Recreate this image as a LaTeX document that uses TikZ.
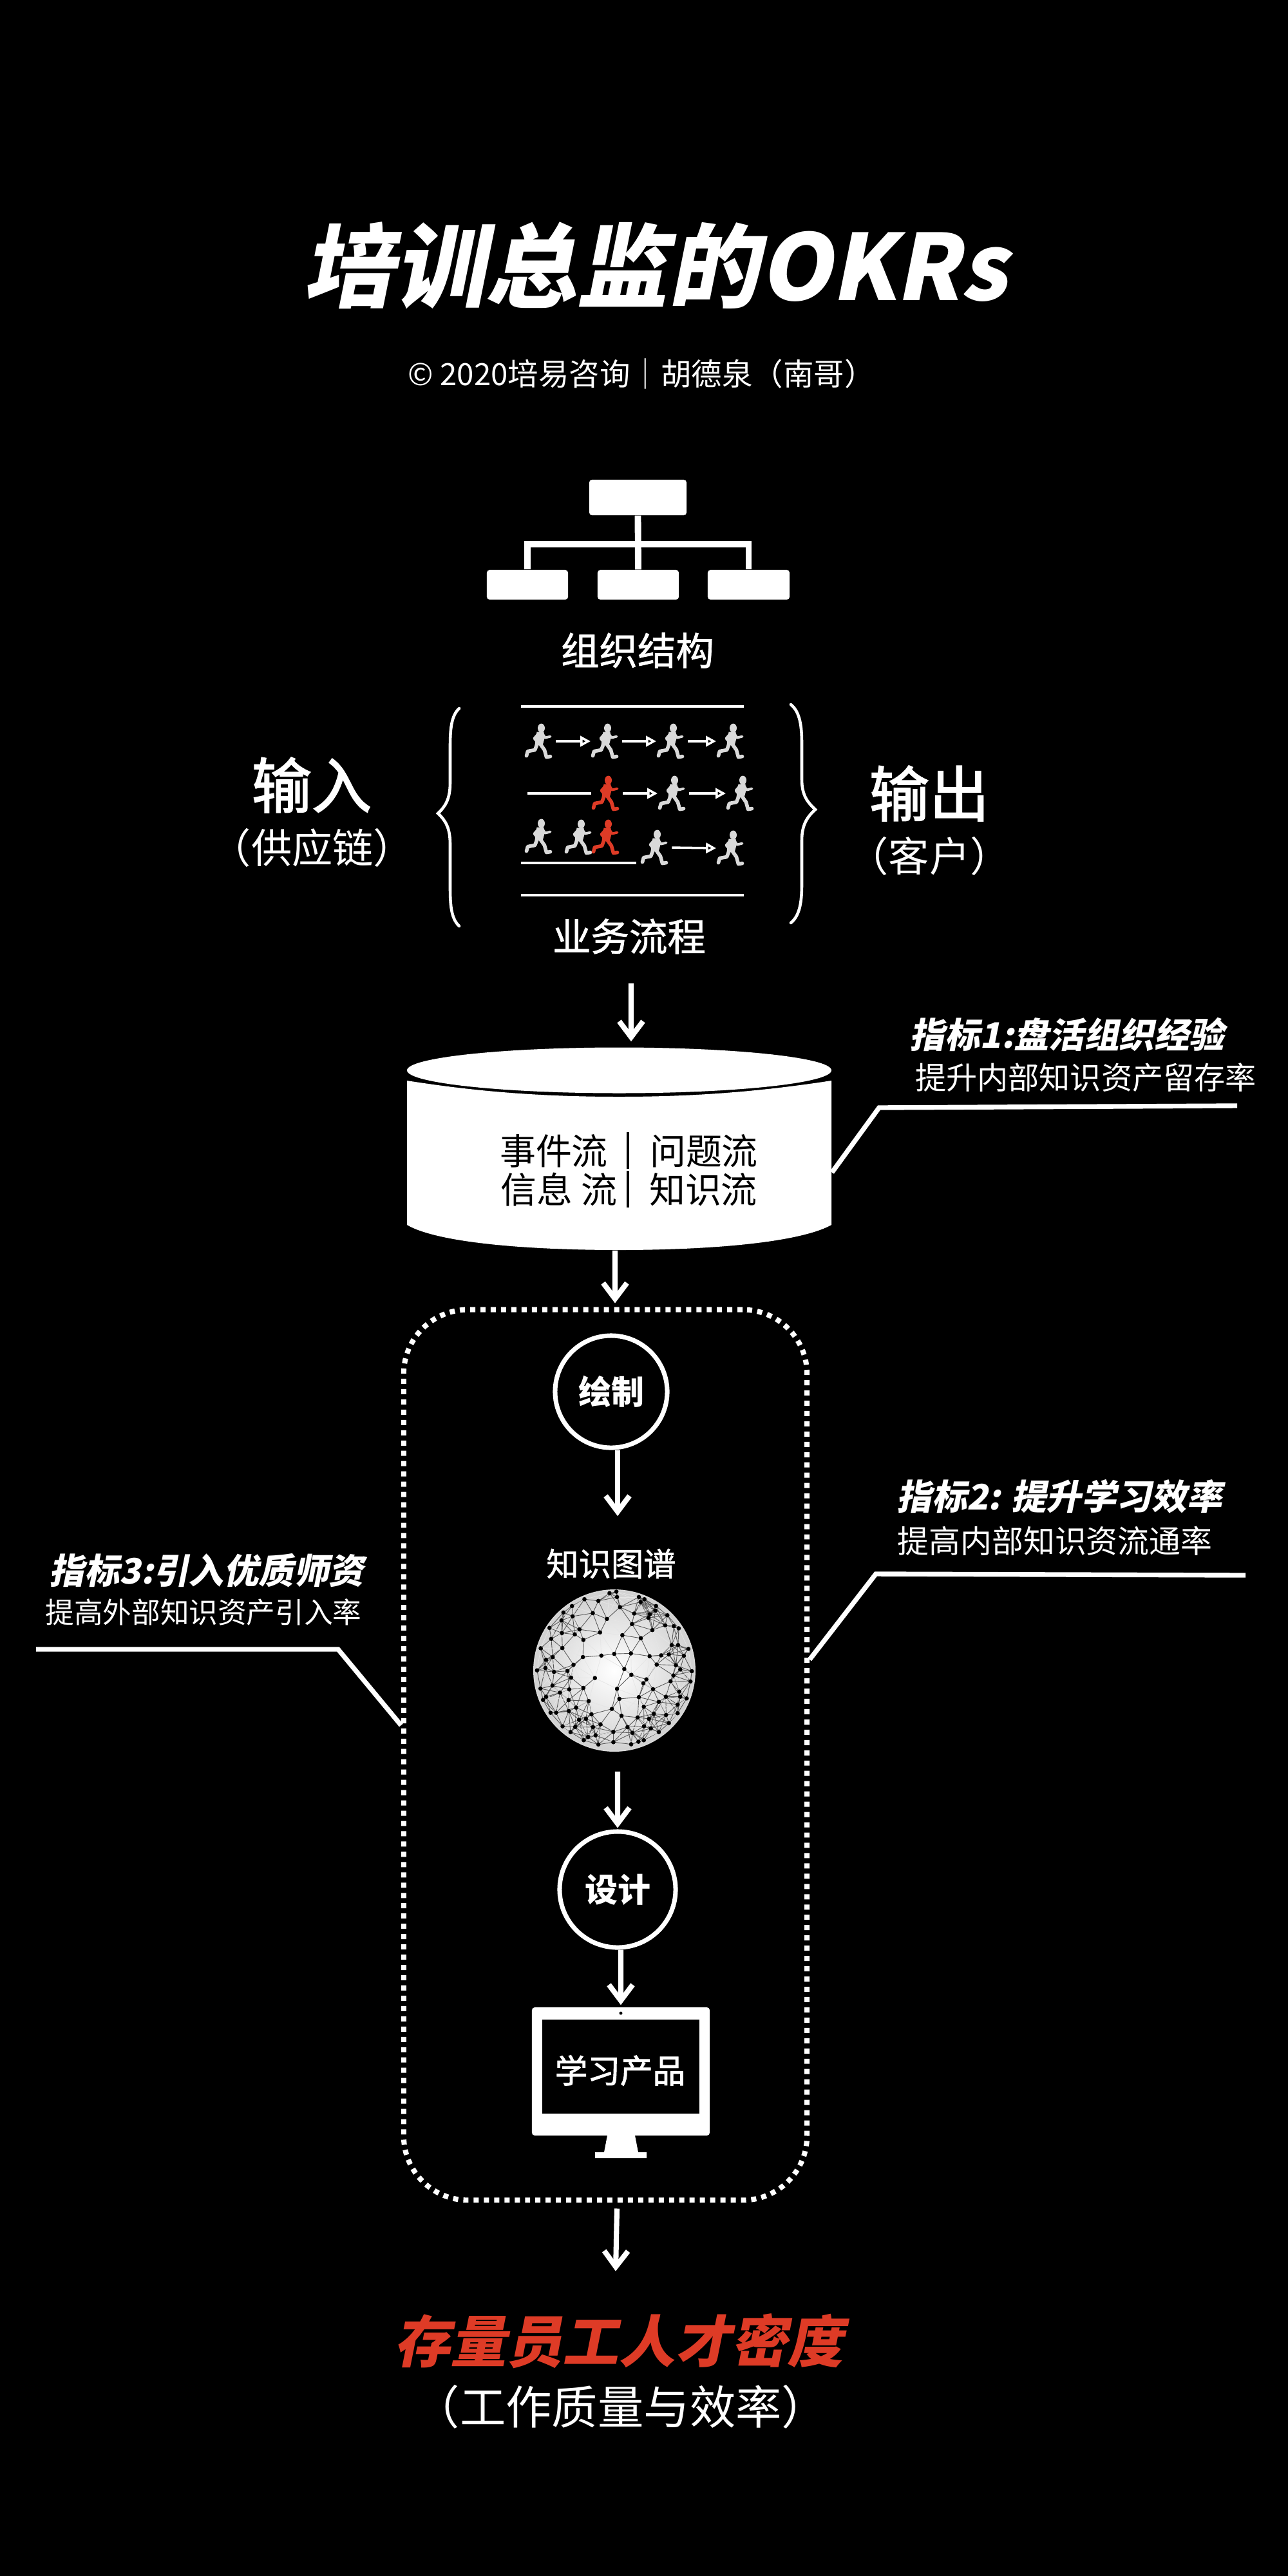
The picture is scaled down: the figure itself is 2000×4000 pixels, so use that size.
\documentclass[tikz,border=0pt]{standalone}
\usepackage{fontspec}
\setmainfont{Noto Sans CJK SC}
\newfontfamily\cjkslant[FakeSlant=0.2]{Noto Sans CJK SC}
\newfontfamily\cjkmed[FakeBold=1.2]{Noto Sans CJK SC}
\newfontfamily\cjkheavy[FakeBold=2]{Noto Sans CJK SC}
\usetikzlibrary{arrows.meta}
\definecolor{accent}{HTML}{DE3B26}
\definecolor{runnergray}{HTML}{D9D9D9}

\tikzset{
x=0.01cm, y=-0.01cm,
every node/.style={text=white, inner sep=0pt},
fsize/.style={font=\fontsize{#1}{#1}\selectfont},
medsize/.style={font=\fontsize{#1}{#1}\selectfont\cjkmed},
metric/.style={font=\fontsize{#1}{#1}\selectfont\cjkslant\bfseries},
orgbox/.style={fill=white, rounded corners=1.2pt},
orgline/.style={draw=white, line width=2.8pt},
track/.style={draw=white, line width=1.15pt},
brace/.style={draw=white, line width=1.3pt, line cap=round},
runarrow/.style={draw=white, line width=1pt, shorten <=1.5pt,
  -{Triangle[length=4.5pt,width=4.6pt]}},
flowarrow/.style={draw=white, line width=2.3pt,
  -{Straight Barb[length=7pt,width=10.5pt]}},
callout/.style={draw=white, line width=2.1pt},
stepcircle/.style={circle, draw=white, line width=2pt, font=\fontsize{14.5}{14.5}\selectfont\bfseries},
}

% one little running man
\newcommand\runnerfig[1]{\tikz[x=0.01cm,y=-0.01cm,line join=round,line cap=round]{
\fill[#1] (4,-21) ellipse [x radius=5.5, y radius=7];
\fill[#1] (-3,-15) -- (8,-15) -- (9,-5) -- (6,6) -- (-6,5) -- cycle;
\draw[#1, line width=1.1pt] (6,-12) -- (10,-6) -- (18,-8);
\draw[#1, line width=1.1pt] (-1,-12) -- (-7,-5) -- (-3,0);
\draw[#1, line width=1.6pt] (-2,3) -- (-6,13) -- (-17,15) -- (-19,22);
\draw[#1, line width=1.6pt] (2,3) -- (9,13) -- (12,24) -- (18,23);
}}

\begin{document}
\begin{tikzpicture}
\useasboundingbox (0,0) rectangle (2000,4000);
\fill[black] (0,0) rectangle (2000,4000);

\node[font=\fontsize{40.3}{40.3}\selectfont\cjkslant\bfseries] (title) at (1017,412) {培训总监的OKRs};
\node[fsize=13.5] (byline) at (996,580) {© 2020培易咨询｜胡德泉（南哥）};

% org chart
\node[orgbox, minimum width=1.51cm, minimum height=0.55cm] (orgtop) at (990.5,772.5) {};
\node[orgbox, minimum width=1.26cm, minimum height=0.46cm] (orga) at (819,908) {};
\node[orgbox, minimum width=1.26cm, minimum height=0.46cm] (orgb) at (991,908) {};
\node[orgbox, minimum width=1.27cm, minimum height=0.46cm] (orgc) at (1162.5,908) {};
\coordinate (orgbus) at (991,845);
\draw[orgline] (orgtop.south) -- (orgb.north);
\draw[orgline] (orga.north) |- (orgbus) -| (orgc.north);
\node[medsize=16.9] (orglabel) at (990,1010) {组织结构};

\node[font=\fontsize{26.5}{26.5}\selectfont\cjkheavy] (input) at (484,1219) {输入};
\node[fsize=18] (inputsub) at (485,1316) {（供应链）};
\node[font=\fontsize{26.5}{26.5}\selectfont\cjkheavy] (output) at (1443,1232) {输出};
\node[fsize=18] (outputsub) at (1443,1329) {（客户）};

% the braces
\draw[brace] (713,1100) .. controls (700,1112) and (699,1135) .. (699,1160) -- (699,1215)
  .. controls (699,1240) and (692,1252) .. (680,1263)
  .. controls (692,1274) and (699,1286) .. (699,1311) -- (699,1378)
  .. controls (699,1403) and (700,1426) .. (713,1438);
\draw[brace] (1228,1094) .. controls (1243,1106) and (1245,1130) .. (1245,1155) -- (1245,1210)
  .. controls (1245,1235) and (1254,1246) .. (1266,1257)
  .. controls (1254,1268) and (1245,1280) .. (1245,1305) -- (1245,1372)
  .. controls (1245,1397) and (1243,1421) .. (1228,1433);

% process rows
\coordinate (tracktopa) at (809,1097);
\coordinate (tracktopb) at (1155,1097);
\coordinate (trackbota) at (809,1390);
\coordinate (trackbotb) at (1155,1390);
\coordinate (trackwaita) at (809,1340);
\coordinate (trackwaitb) at (988,1340);
\coordinate (trackidle) at (819,1232);
\draw[track] (tracktopa) -- (tracktopb);
\draw[track] (trackbota) -- (trackbotb);
\draw[track] (trackwaita) -- (trackwaitb);

\node (ra) at (836,1151) {\runnerfig{runnergray}};
\node (rb) at (939,1151) {\runnerfig{runnergray}};
\node (rc) at (1041,1151) {\runnerfig{runnergray}};
\node (rd) at (1134,1151) {\runnerfig{runnergray}};
\draw[runarrow] (ra.east) -- (rb.west);
\draw[runarrow] (rb.east) -- (rc.west);
\draw[runarrow] (rc.east) -- (rd.west);

\node (sa) at (940,1232) {\runnerfig{accent}};
\node (sb) at (1043,1232) {\runnerfig{runnergray}};
\node (sc) at (1149,1232) {\runnerfig{runnergray}};
\draw[track] (trackidle) -- (sa.west);
\draw[runarrow] (sa.east) -- (sb.west);
\draw[runarrow] (sb.east) -- (sc.west);

\node (ta) at (836,1299) {\runnerfig{runnergray}};
\node (tb) at (898,1300) {\runnerfig{runnergray}};
\node (tc) at (940,1300) {\runnerfig{accent}};
\node (td) at (1016,1316) {\runnerfig{runnergray}};
\node (te) at (1134,1317) {\runnerfig{runnergray}};
\draw[runarrow] (td.east) -- (te.west);

\node[medsize=16.9] (proc) at (977,1454) {业务流程};

% the store
\fill[white] (632,1678) -- (632,1902) .. controls (680,1930) and (820,1941) .. (961.5,1941)
  .. controls (1100,1941) and (1240,1930) .. (1291,1902) -- (1291,1678)
  .. controls (1180,1695) and (1080,1703) .. (961.5,1703)
  .. controls (840,1703) and (740,1695) .. (632,1678) -- cycle;
\fill[white] (961.5,1662) ellipse [x radius=329.5, y radius=35.5];
\node[minimum width=6.59cm, minimum height=3.15cm] (db) at (961.5,1783.5) {};
\node[fsize=15.9, text=black] (dba) at (860,1787) {事件流};
\node[fsize=15.9, text=black] (dbb) at (1093,1787) {问题流};
\node[fsize=15.9, text=black] (dbc) at (868,1847) {信息 流};
\node[fsize=15.9, text=black] (dbd) at (1092,1847) {知识流};
\draw[black, line width=1.2pt] (dba.east -| 975,0) ++(0,-29) -- ++(0,57);
\draw[black, line width=1.2pt] (dbc.east -| 975,0) ++(0,-29) -- ++(0,57);

% dotted frame
\node[draw=white, line width=2.3pt, dash pattern=on 2.27pt off 2.27pt, rounded corners=1cm,
  minimum width=6.26cm, minimum height=13.82cm] (frame) at (940,2725) {};

\node[stepcircle, minimum size=1.74cm] (huizhi) at (949,2161) {绘制};
\node[medsize=14.3] (tupu) at (949,2428) {知识图谱};
\node[circle, draw=white!85!black, line width=0.5pt, minimum size=2.5cm, inner color=white, outer color=white!82!black] (qiu) at (954,2594) {};

% sphere: dots, joined when close
\def\qiupts{472/215,440/222,475/240,577/240,603/250,585/263,323/250,388/258,265/282,657/282,489/287,654/303,225/312,362/315,555/317,628/320,710/325,268/330,622/337,428/342,216/349,545/366,700/372,740/376,160/384,763/386,300/391,640/394,396/405,218/408,278/414,500/418,168/435,586/432,318/440,730/464,760/464,119/479,220/478,808/482,402/513,540/503,462/505,316/520,175/520,627/516,681/512,717/508,787/514,144/533,272/556,660/555,750/558,141/571,102/582,181/589,244/585,509/576,770/578,824/586,542/603,738/606,261/616,372/618,612/624,598/642,725/633,818/634,174/653,118/667,318/664,475/668,643/670,252/671,209/686,765/681,144/705,703/705,577/707,770/705,486/715,130/720,249/721,800/713,343/725,670/729,758/742,600/752,284/756,451/762,165/780,191/780,250/772,758/782,356/787,647/785,704/790,496/794,571/802,298/813,624/808,330/808,398/834,717/828,221/843,363/847,280/846,524/847,601/843,633/853,258/870,458/869,547/874,670/870,375/885,340/893,320/908,458/917,600/908,575/915,541/927,388/928}
\begin{scope}[shift={(800,2400)}, x=0.00333cm, y=-0.00333cm]
\foreach \ax/\ay [count=\i] in \qiupts {
  \foreach \bx/\by [count=\j] in \qiupts {
    \ifnum\j>\i
      \pgfmathparse{veclen(\ax-\bx,\ay-\by)}
      \ifdim\pgfmathresult pt<100pt
        \draw[black!65, line width=0.25pt] (\ax,\ay) -- (\bx,\by);
      \else\ifdim\pgfmathresult pt<125pt
        \draw[black!10, line width=0.2pt] (\ax,\ay) -- (\bx,\by);
      \fi\fi
    \fi
  }
}
\foreach \ax/\ay in \qiupts {
  \fill[black] (\ax,\ay) circle [radius=10];
}
\end{scope}

\node[stepcircle, minimum size=1.8cm] (sheji) at (959,2934) {设计};

% monitor
\fill[white] (943,3316) -- (986,3316) -- (991,3342) -- (1004,3342) -- (1004,3351) -- (924,3351)
  -- (924,3342) -- (938,3342) -- cycle;
\node[fill=white, rounded corners=1.3pt, minimum width=2.76cm, minimum height=1.99cm] (monitor) at (964,3216.5) {};
\node[fill=black, minimum width=2.44cm, minimum height=1.46cm] (screen) at (964,3209) {};
\fill[black] (964,3126) circle [radius=2.5];
\node[font=\fontsize{14.4}{14.4}\selectfont\cjkheavy] (product) at (963,3215) {学习产品};

\node[font=\fontsize{24.8}{24.8}\selectfont\cjkslant\bfseries, text=accent] (result) at (961,3635) {存量员工人才密度};
\node[fsize=20.3] (resultsub) at (964,3737) {（工作质量与效率）};

% flow
\draw[flowarrow] ([xshift=0.03cm]proc.south) ++(0,45) -- ([xshift=0.185cm,yshift=0.08cm]db.north);
\draw[flowarrow] ([xshift=-0.065cm]db.south) -- ([xshift=0.15cm,yshift=0.06cm]frame.north);
\draw[flowarrow] ([xshift=0.1cm]huizhi.south) -- ([xshift=0.1cm,yshift=0.5cm]tupu.north);
\draw[flowarrow] ([xshift=0.05cm]qiu.south) ++(0,31) -- ([yshift=0.02cm]sheji.north);
\draw[flowarrow] ([xshift=0.05cm]sheji.south) -- ([yshift=0.03cm]monitor.north);
\draw[flowarrow] ([xshift=0.18cm,yshift=-0.09cm]frame.south) -- ([xshift=-0.05cm,yshift=0.65cm]result.north);

% callouts
\coordinate (bendone) at (1365,1720);
\coordinate (endone) at (1921,1717);
\coordinate (bendtwo) at (1360,2444);
\coordinate (endtwo) at (1934,2446);
\coordinate (bendthree) at (525,2561);
\coordinate (endthree) at (56,2561);
\draw[callout] ([yshift=-0.37cm]db.east) -- (bendone) -- (endone);
\draw[callout] ([yshift=1.48cm]frame.east) -- (bendtwo) -- (endtwo);
\draw[callout] ([yshift=0.46cm]frame.west) -- (bendthree) -- (endthree);

\node[metric=15.5] (mone) at (1657,1606) {指标1:盘活组织经验};
\node[fsize=13.7] (monesub) at (1686,1673) {提升内部知识资产留存率};
\node[metric=15.5] (mtwo) at (1645,2324) {指标2: 提升学习效率};
\node[fsize=13.9] (mtwosub) at (1638,2393) {提高内部知识资流通率};
\node[metric=15.5] (mthree) at (321,2439) {指标3:引入优质师资};
\node[fsize=12.7] (mthreesub) at (316,2503) {提高外部知识资产引入率};
\end{tikzpicture}
\end{document}
